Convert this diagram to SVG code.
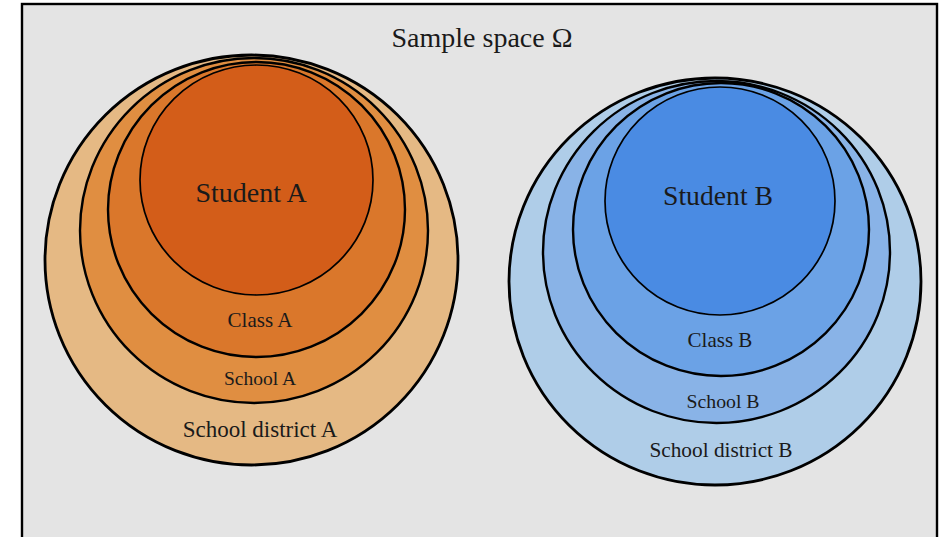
<svg xmlns="http://www.w3.org/2000/svg" width="944" height="537" viewBox="0 0 944 537">
  <style>
    .ring { stroke: #000; stroke-width: 2.4; }
    .outer { stroke-width: 2.8; }
    .core { stroke: #000; stroke-width: 1.7; }
    text { font-family: "Liberation Serif", "Times New Roman", serif; fill: #1a1a1a; text-anchor: middle; }
    .d-a { fill: #E5B984; } .s-a { fill: #E08E41; } .c-a { fill: #DA772B; } .st-a { fill: #D35D19; }
    .d-b { fill: #AFCDE8; } .s-b { fill: #89B3E7; } .c-b { fill: #6BA2E6; } .st-b { fill: #4A8BE3; }
  </style>

  <!-- sample space frame -->
  <rect x="22" y="4" width="915" height="545" fill="#E4E4E4" stroke="#000" stroke-width="2.4"/>
  <text x="482" y="47" font-size="28">Sample space Ω</text>

  <!-- nested sets A -->
  <g id="districtA">
    <ellipse class="ring outer d-a" cx="251.5" cy="260" rx="206.5" ry="205"/>
    <text x="260" y="437" font-size="23">School district A</text>
  </g>
  <g id="schoolA">
    <ellipse class="ring s-a" cx="254" cy="230.5" rx="174" ry="172.5"/>
    <text x="260" y="385" font-size="19.5">School A</text>
  </g>
  <g id="classA">
    <ellipse class="ring c-a" cx="256.5" cy="209.5" rx="148.5" ry="147.5"/>
    <text x="260" y="327" font-size="21">Class A</text>
  </g>
  <g id="studentA">
    <ellipse class="core st-a" cx="256.5" cy="180" rx="116.5" ry="115"/>
    <text x="251" y="202" font-size="28">Student A</text>
  </g>

  <!-- nested sets B -->
  <g id="districtB">
    <ellipse class="ring outer d-b" cx="715" cy="281.5" rx="206" ry="203.5"/>
    <text x="721" y="457" font-size="21.3">School district B</text>
  </g>
  <g id="schoolB">
    <ellipse class="ring s-b" cx="716.5" cy="252" rx="173.5" ry="171"/>
    <text x="723" y="408" font-size="19.8">School B</text>
  </g>
  <g id="classB">
    <ellipse class="ring c-b" cx="721" cy="229.5" rx="148" ry="146.5"/>
    <text x="720" y="347" font-size="21">Class B</text>
  </g>
  <g id="studentB">
    <ellipse class="core st-b" cx="720" cy="201" rx="115" ry="114"/>
    <text x="718" y="205" font-size="27.7">Student B</text>
  </g>

  <g id="connectors"/>
</svg>
